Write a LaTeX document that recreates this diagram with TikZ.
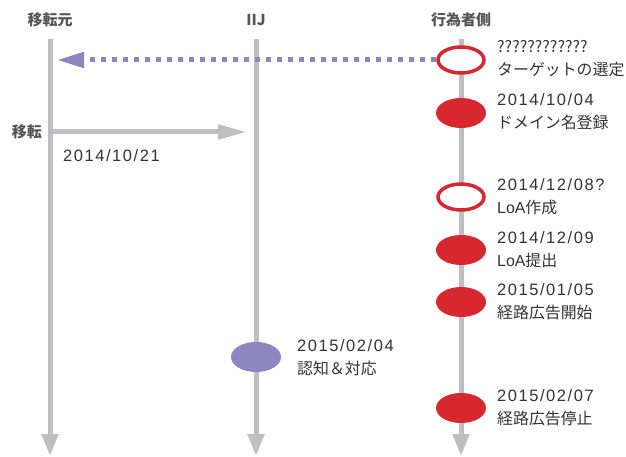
\documentclass[tikz,border=0pt]{standalone}
\usepackage{fontspec}
\setmainfont{Noto Sans CJK JP}
\newfontfamily\latn[LetterSpace=9.4]{Liberation Sans}
\newfontfamily\latq{Liberation Sans}
\usetikzlibrary{arrows.meta,shapes.geometric}
\definecolor{lgray}{HTML}{BEBEC3}
\definecolor{evred}{HTML}{D7282F}
\definecolor{evpurple}{HTML}{8C87C0}
\definecolor{txt}{HTML}{333333}
\definecolor{hdr}{HTML}{555555}
\newcommand{\dt}[1]{{\latn\fontsize{16.5}{23}\selectfont #1}}
\tikzset{
  lifeline/.style={draw=lgray, line width=5pt, -{Triangle[width=16pt,length=22pt]}},
  header/.style={font=\bfseries\fontsize{15}{18}\selectfont, text=hdr, inner sep=0pt},
  evopen/.style={ellipse, draw=evred, line width=3.5pt, fill=white, minimum width=46pt, minimum height=26pt, inner sep=0pt},
  evfill/.style={ellipse, fill=evred, minimum width=50pt, minimum height=30pt, inner sep=0pt},
  evpurp/.style={ellipse, fill=evpurple, minimum width=50pt, minimum height=30pt, inner sep=0pt},
  lbl/.style={anchor=west, align=left, text=txt, font=\fontsize{15.9}{23}\selectfont, inner sep=0pt},
  dotarrow/.style={draw=evpurple, line width=5pt, dash pattern=on 5pt off 6pt, -{Triangle[width=15pt,length=27pt]}},
  grayarrow/.style={draw=lgray, line width=5pt, -{Triangle[width=14pt,length=29pt]}}
}
\begin{document}
\begin{tikzpicture}[x=1pt,y=-1pt]
\useasboundingbox (0,0) rectangle (626,457);
% headers
\node[header] (hA) at (50,20) {移転元};
\node[header] (hB) at (256,20) {IIJ};
\node[header] (hC) at (461,20) {行為者側};
% lifelines
\coordinate (a0) at (50,39);
\coordinate (a1) at (50,456);
\coordinate (b0) at (256,39);
\coordinate (b1) at (256,456);
\coordinate (c0) at (461,39);
\coordinate (c1) at (461,456);
\draw[lifeline] (a0) -- (a1);
\draw[lifeline] (b0) -- (b1);
\draw[lifeline] (c0) -- (c1);
% transfer arrow
\coordinate (ta) at (52,132);
\coordinate (tb) at (247,132);
\draw[grayarrow] (ta) -- (tb);
\node[anchor=east, header] (tl) at (42,132) {移転};
\node[lbl] (td) at (63,156) {\dt{2014/10/21}};
% events on actor line
\node[evopen] (e1) at (461,60) {};
\node[evfill] (e2) at (461,113) {};
\node[evopen] (e3) at (461,197) {};
\node[evfill] (e4) at (461,250) {};
\node[evfill] (e5) at (461,302) {};
\node[evfill] (e6) at (461,408) {};
\node[evpurp] (p1) at (256,357) {};
% dotted arrow
\coordinate (dend) at (57,60);
\draw[dotarrow] (e1.west) -- (dend);
% labels
\node[lbl] (l1) at (497,59) {????????????\\ターゲットの選定};
\node[lbl] (l2) at (497,112) {\dt{2014/10/04}\\ドメイン名登録};
\node[lbl] (l3) at (497,197) {\dt{2014/12/08?}\\{\latq LoA}作成};
\node[lbl] (l4) at (497,250) {\dt{2014/12/09}\\{\latq LoA}提出};
\node[lbl] (l5) at (497,302) {\dt{2015/01/05}\\経路広告開始};
\node[lbl] (l6) at (497,408) {\dt{2015/02/07}\\経路広告停止};
\node[lbl] (l7) at (297,358) {\dt{2015/02/04}\\認知＆対応};
\end{tikzpicture}
\end{document}
